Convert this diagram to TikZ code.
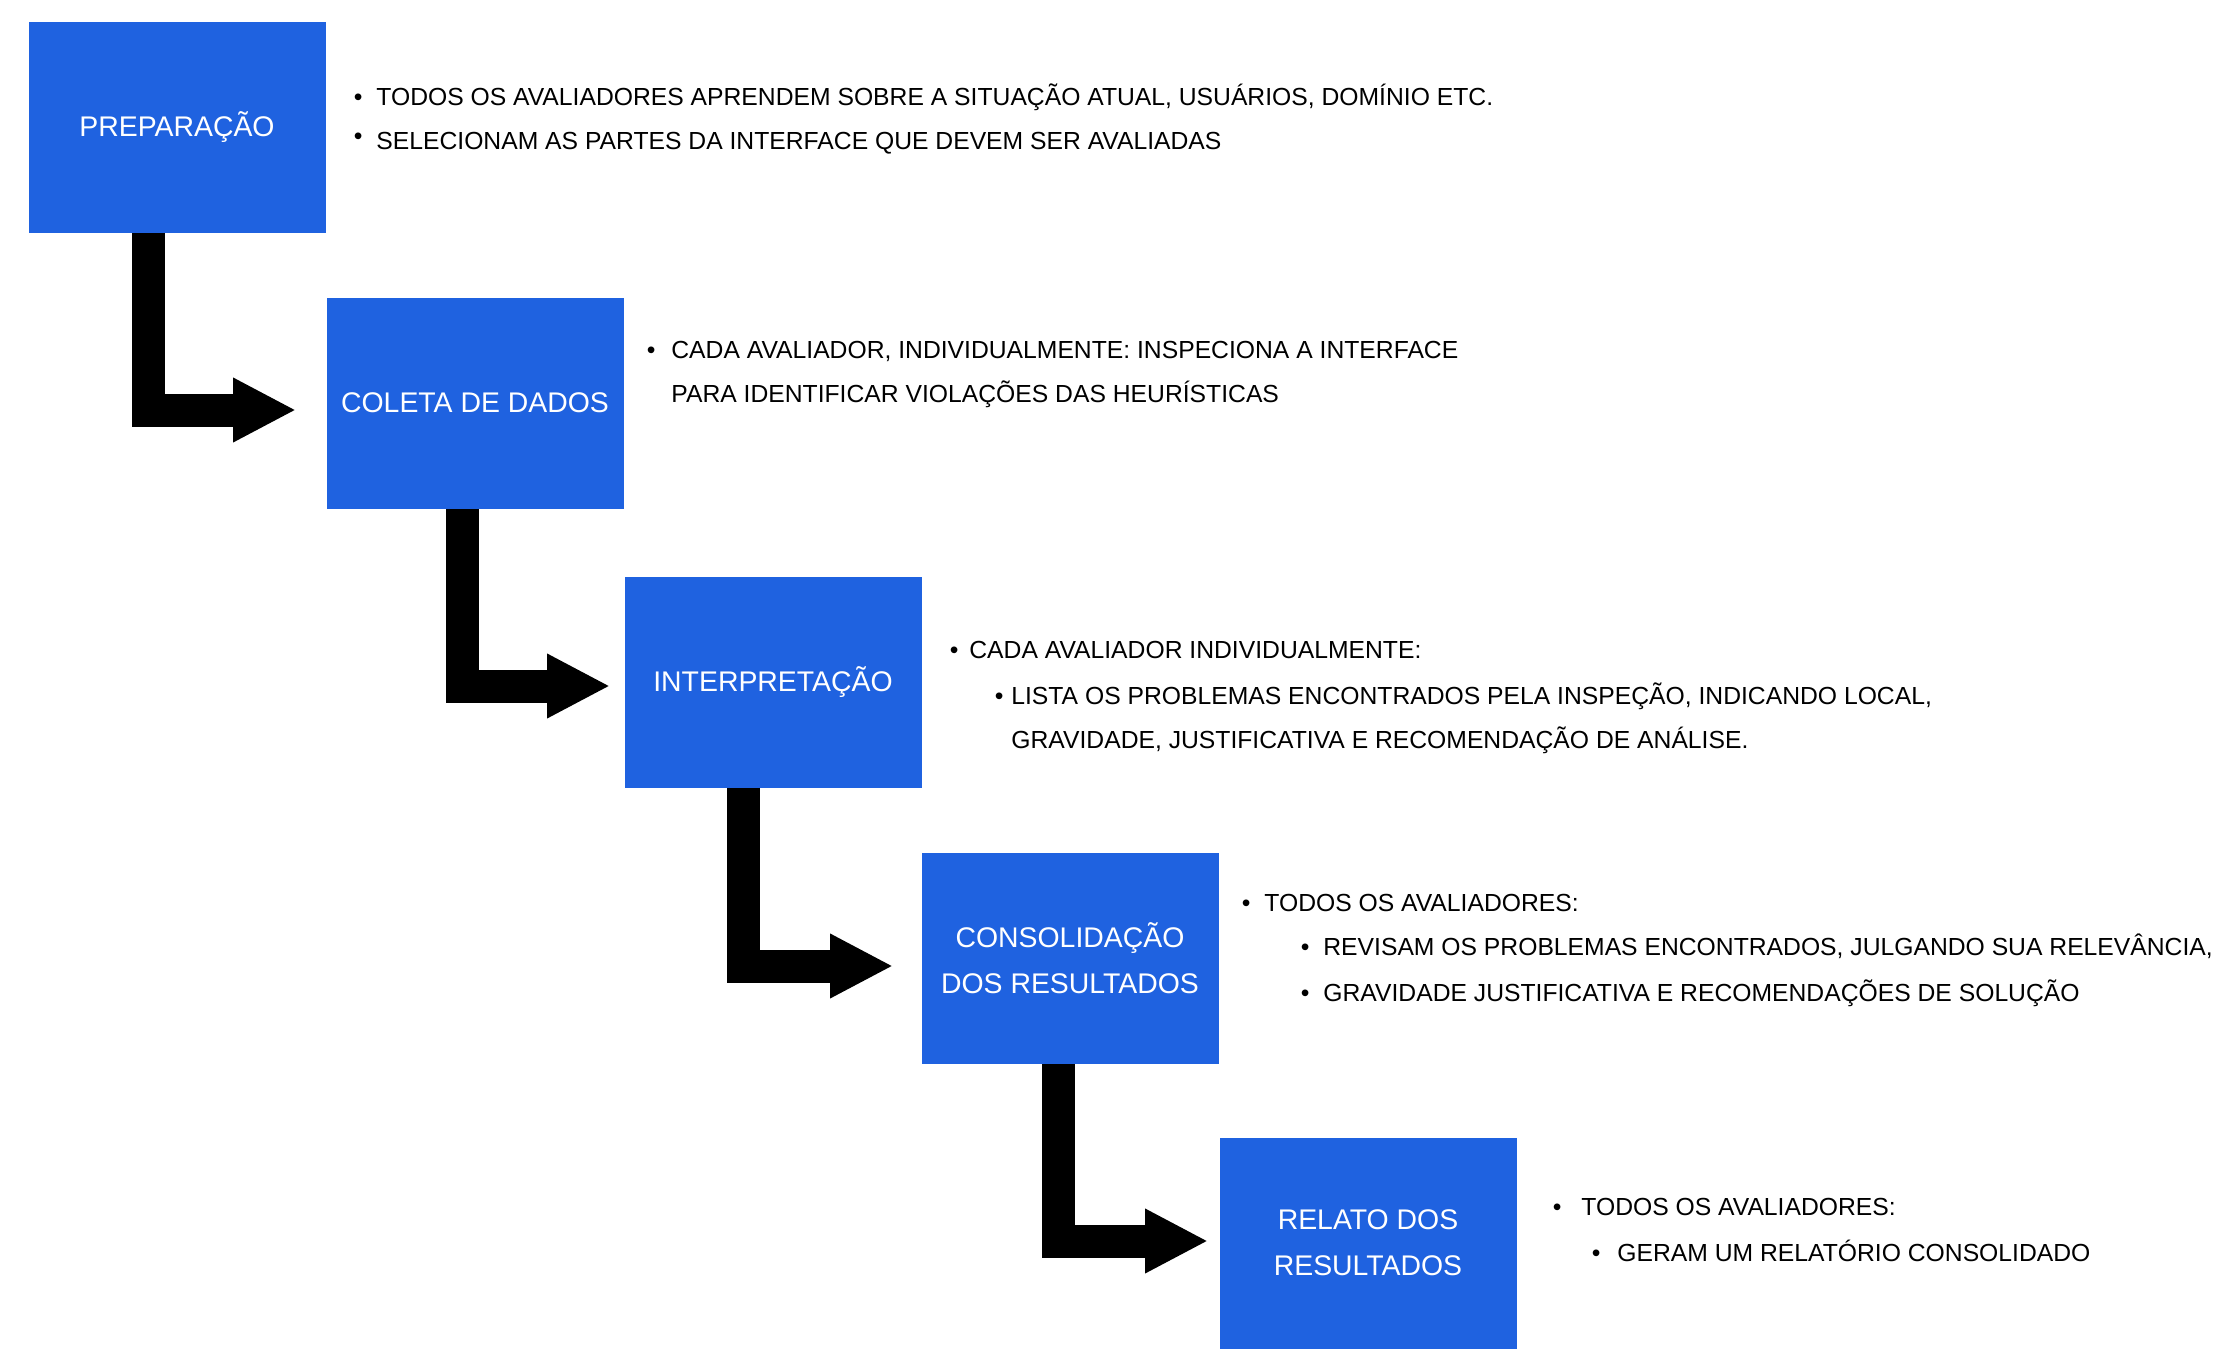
\documentclass[tikz,border=0pt]{standalone}
\usepackage{fontspec}
\setmainfont{Liberation Sans}
\usepackage{tikz}
\usetikzlibrary{arrows.meta,positioning}
\definecolor{stepblue}{RGB}{31,98,224}
\newcommand{\bl}[1][7pt]{\llap{\textbullet\hspace{#1}}}

\begin{document}
\begin{tikzpicture}[x=0.5pt,y=-0.5pt]
                \tikzstyle{phase}=[rectangle, fill=stepblue, text=white, minimum width=148.5pt, minimum height=105.5pt, inner sep=0pt, align=center, font=\fontsize{14.2}{23}\selectfont]
                \tikzstyle{item}=[anchor=west, inner sep=0pt, text height=8.8pt, text depth=0pt, font=\fontsize{12.35}{15}\selectfont]
                \tikzstyle{flow}=[line width=16.5pt, line join=miter, -{Triangle[length=31.5pt,width=30pt]}]
                \useasboundingbox (0,0) rectangle (2240,1349);
                \node[phase] (prep) at (177,127){PREPARAÇÃO};
                \node[phase] (coleta) at (475,403){COLETA DE DADOS};
                \node[phase] (interp) at (773,682){\raisebox{-3pt}{INTERPRETAÇÃO}};
                \node[phase] (consol) at (1070,958){CONSOLIDAÇÃO\\DOS RESULTADOS};
                \node[phase] (relato) at (1368,1243){RELATO DOS\\RESULTADOS};
                % textos
                \node[item] (t1a) at (376,97){\bl TODOS OS AVALIADORES APRENDEM SOBRE A SITUAÇÃO ATUAL, USUÁRIOS, DOMÍNIO ETC.};
                \node[item] (t1b) at (376,141){\llap{\raisebox{2.5pt}{\textbullet}\hspace{7pt}}SELECIONAM AS PARTES DA INTERFACE QUE DEVEM SER AVALIADAS};
                \node[item] (t2a) at (671,350){\bl[8pt]CADA AVALIADOR, INDIVIDUALMENTE: INSPECIONA A INTERFACE};
                \node[item] (t2b) at (671,394){PARA IDENTIFICAR VIOLAÇÕES DAS HEURÍSTICAS};
                \node[item] (t3a) at (969,650){\bl[5.5pt]CADA AVALIADOR INDIVIDUALMENTE:};
                \node[item] (t3b) at (1011,696){\bl[4pt]LISTA OS PROBLEMAS ENCONTRADOS PELA INSPEÇÃO, INDICANDO LOCAL,};
                \node[item] (t3c) at (1011,740){GRAVIDADE, JUSTIFICATIVA E RECOMENDAÇÃO DE ANÁLISE.};
                \node[item] (t4a) at (1264,903){\bl TODOS OS AVALIADORES:};
                \node[item] (t4b) at (1323,947){\bl REVISAM OS PROBLEMAS ENCONTRADOS, JULGANDO SUA RELEVÂNCIA,};
                \node[item] (t4c) at (1323,993){\bl GRAVIDADE JUSTIFICATIVA E RECOMENDAÇÕES DE SOLUÇÃO};
                \node[item] (t5a) at (1581,1207){\bl[10pt]TODOS OS AVALIADORES:};
                \node[item] (t5b) at (1617,1253){\bl[8.5pt]GERAM UM RELATÓRIO CONSOLIDADO};
                % setas
                \draw[flow, shorten >=15pt] ([xshift=60pt]prep.south west) |- ([yshift=-3.5pt]coleta.west);
                \draw[flow, shorten >=7pt] ([xshift=68pt]coleta.south west) |- ([yshift=-2pt]interp.west);
                \draw[flow, shorten >=14pt] ([xshift=59.5pt]interp.south west) |- ([yshift=-4pt]consol.west);
                \draw[flow, shorten >=5.5pt] ([xshift=68.5pt]consol.south west) |- ([yshift=1pt]relato.west);
    \end{tikzpicture}
\end{document}
